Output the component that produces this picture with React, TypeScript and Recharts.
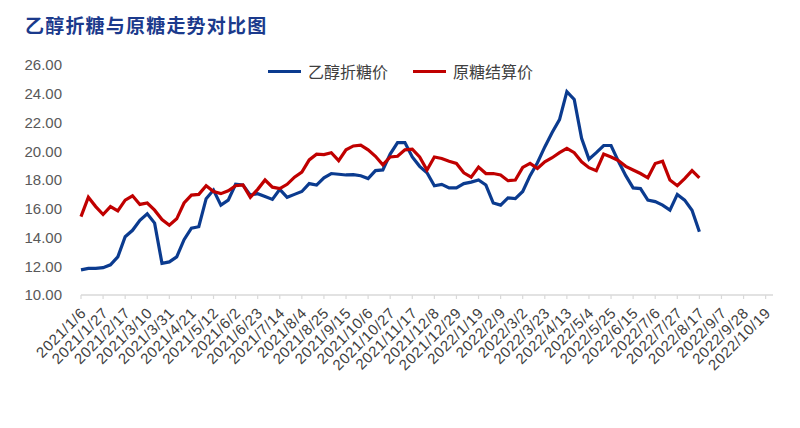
import { LineChart, Line, XAxis, YAxis } from 'recharts';

// 周度数据：2021/1/6 起，每周一个点
const tickLabels = [
  '2021/1/6', '2021/1/27', '2021/2/17', '2021/3/10', '2021/3/31', '2021/4/21',
  '2021/5/12', '2021/6/2', '2021/6/23', '2021/7/14', '2021/8/4', '2021/8/25',
  '2021/9/15', '2021/10/6', '2021/10/27', '2021/11/17', '2021/12/8', '2021/12/29',
  '2022/1/19', '2022/2/9', '2022/3/2', '2022/3/23', '2022/4/13', '2022/5/4',
  '2022/5/25', '2022/6/15', '2022/7/6', '2022/7/27', '2022/8/17', '2022/9/7',
  '2022/9/28', '2022/10/19',
];

const ethanolSugar = [
  11.75, 11.85, 11.85, 11.9, 12.1, 12.65, 14.05, 14.5, 15.2, 15.65,
  15.0, 12.2, 12.3, 12.65, 13.85, 14.65, 14.75, 16.7, 17.3, 16.25,
  16.6, 17.7, 17.65, 16.95, 17.05, 16.85, 16.65, 17.35, 16.8, 17.0,
  17.2, 17.75, 17.65, 18.15, 18.45, 18.4, 18.35, 18.37, 18.3, 18.1,
  18.65, 18.7, 19.8, 20.6, 20.6, 19.6, 18.95, 18.5, 17.6, 17.7,
  17.45, 17.45, 17.75, 17.85, 18.0, 17.65, 16.4, 16.25, 16.75, 16.7,
  17.2, 18.3, 19.2, 20.3, 21.3, 22.2, 24.15, 23.6, 20.9, 19.45,
  19.9, 20.4, 20.4, 19.3, 18.3, 17.45, 17.4, 16.6, 16.5, 16.25,
  15.9, 17.0, 16.6, 15.9, 14.4,
];

const rawSugar = [
  15.45, 16.8, 16.15, 15.6, 16.15, 15.85, 16.6, 16.9, 16.3, 16.4,
  15.9, 15.25, 14.85, 15.3, 16.4, 16.95, 17.0, 17.6, 17.2, 17.05,
  17.25, 17.6, 17.65, 16.8, 17.35, 18.0, 17.5, 17.4, 17.7, 18.2,
  18.55, 19.4, 19.8, 19.77, 19.9, 19.35, 20.1, 20.37, 20.43, 20.1,
  19.65, 19.05, 19.6, 19.65, 20.1, 20.15, 19.6, 18.7, 19.6, 19.5,
  19.3, 19.15, 18.5, 18.2, 18.9, 18.45, 18.45, 18.35, 17.95, 18.0,
  18.88, 19.16, 18.81, 19.27, 19.55, 19.9, 20.2, 19.9, 19.27, 18.86,
  18.65, 19.8, 19.6, 19.35, 18.95, 18.7, 18.45, 18.15, 19.15, 19.3,
  18.0, 17.6, 18.1, 18.65, 18.15,
];

const yTicks = [10, 12, 14, 16, 18, 20, 22, 24, 26];

const BLUE = '#0B3B8F';
const RED = '#C00000';

const data = ethanolSugar.map((v, i) => ({ week: i, ethanol: v, raw: rawSugar[i] }));
const xTicks = tickLabels.map((_, i) => i * 3);

const DateTick = (props: any) => {
  const { x, y, payload } = props;
  const label = tickLabels[payload.value / 3] ?? '';
  return (
    <g transform={`translate(${x + 6},${y + 13})`}>
      <text
        x={0}
        y={0}
        textAnchor="end"
        transform="rotate(-45)"
        fill="#404040"
        fontSize={15}
        letterSpacing={0.6}
        fontFamily="Liberation Sans, Arial, sans-serif"
      >
        {label}
      </text>
    </g>
  );
};

export default function App() {
  return (
    <div style={{ position: 'absolute', left: 0, top: 0, width: 800, height: 428, background: '#fff' }}>
      <div
        style={{
          position: 'absolute',
          left: 25,
          top: 15,
          fontFamily: '"Noto Sans CJK SC", sans-serif',
          fontWeight: 700,
          fontSize: 19,
          letterSpacing: 1.2,
          color: '#1B3A8C',
          lineHeight: 1,
        }}
      >
        乙醇折糖与原糖走势对比图
      </div>

      {/* 图例 */}
      <div
        style={{
          position: 'absolute',
          left: 268,
          top: 63,
          display: 'flex',
          alignItems: 'center',
          fontFamily: '"Noto Sans CJK SC", sans-serif',
          fontSize: 16,
          color: '#404040',
          lineHeight: 1,
        }}
      >
        <span style={{ width: 33, height: 3, background: BLUE, display: 'inline-block' }} />
        <span style={{ marginLeft: 7 }}>乙醇折糖价</span>
        <span style={{ width: 33, height: 3, background: RED, display: 'inline-block', marginLeft: 25 }} />
        <span style={{ marginLeft: 7 }}>原糖结算价</span>
      </div>

      <LineChart
        width={800}
        height={428}
        data={data}
        margin={{ top: 65, right: 27, bottom: 0, left: 0 }}
      >
        <XAxis
          dataKey="week"
          type="number"
          domain={[0, 94]}
          ticks={xTicks}
          interval={0}
          height={133}
          tick={<DateTick />}
          tickSize={4}
          tickMargin={2}
          axisLine={{ stroke: '#D9D9D9', strokeWidth: 1.5 }}
          tickLine={{ stroke: '#D9D9D9', strokeWidth: 1.2 }}
        />
        <YAxis
          domain={[10, 26]}
          ticks={yTicks}
          width={81}
          axisLine={false}
          tickLine={false}
          tickMargin={13}
          tickFormatter={(v: number) => v.toFixed(2)}
          tick={{ fill: '#595959', fontSize: 15, fontFamily: 'Liberation Sans, Arial, sans-serif' }}
        />
        <Line
          type="linear"
          dataKey="ethanol"
          stroke={BLUE}
          strokeWidth={3.2}
          dot={false}
          isAnimationActive={false}
        />
        <Line
          type="linear"
          dataKey="raw"
          stroke={RED}
          strokeWidth={3.2}
          dot={false}
          isAnimationActive={false}
        />
      </LineChart>
    </div>
  );
}
